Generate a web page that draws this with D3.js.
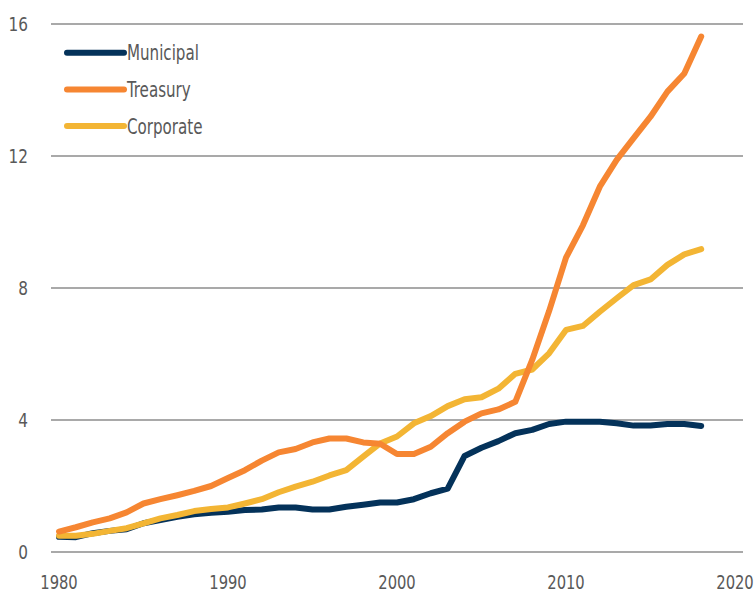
<!DOCTYPE html>
<html>
<head>
<meta charset="utf-8">
<script src="https://cdn.jsdelivr.net/npm/d3@7"></script>
<style>
  body { margin: 0; background: #fff; }
  svg text { font-family: "DejaVu Sans Condensed", "DejaVu Sans", sans-serif; font-stretch: condensed; fill: #595959; }
</style>
</head>
<body>
<div id="chart"></div>
<script>
// data
const years = d3.range(1980, 2019);
const municipal = [0.46, 0.45, 0.57, 0.64, 0.69, 0.87, 0.97, 1.07, 1.14, 1.19,
                   1.22, 1.27, 1.29, 1.35, 1.35, 1.29, 1.29, 1.37, 1.43, 1.5,
                   1.5, 1.6, 1.78, 1.92, 2.91, 3.16, 3.36, 3.6, 3.7, 3.88,
                   3.95, 3.95, 3.95, 3.9, 3.83, 3.83, 3.88, 3.88, 3.82];
const treasury = [0.62, 0.75, 0.9, 1.02, 1.2, 1.47, 1.6, 1.72, 1.85, 2.0,
                  2.24, 2.48, 2.77, 3.02, 3.12, 3.32, 3.44, 3.44, 3.32, 3.28,
                  2.97, 2.97, 3.19, 3.6, 3.95, 4.2, 4.32, 4.55, 5.82, 7.3,
                  8.92, 9.9, 11.07, 11.88, 12.54, 13.19, 13.95, 14.5, 15.62];
const corporate = [0.49, 0.49, 0.55, 0.64, 0.72, 0.87, 1.02, 1.12, 1.24, 1.3,
                   1.35, 1.47, 1.6, 1.81, 1.98, 2.13, 2.32, 2.48, 2.89, 3.29,
                   3.5, 3.9, 4.12, 4.42, 4.63, 4.69, 4.95, 5.4, 5.53, 6.02,
                   6.73, 6.85, 7.28, 7.69, 8.09, 8.26, 8.7, 9.02, 9.18];
const seriesNames = ["Municipal", "Treasury", "Corporate"];
const seriesColors = ["#04325a", "#f68632", "#f3b534"];
const yTicks = [0, 4, 8, 12, 16];
const xTicks = [1980, 1990, 2000, 2010, 2020];

const width = 754, height = 592;

const svg = d3.select('#chart')
              .append('svg')
              .attr("width", width)
              .attr("height", height);

const x = d3.scaleLinear()
  .domain([1980, 2020])
  .range([59, 735]);

const y = d3.scaleLinear()
  .domain([0, 16])
  .range([552, 24]);

// horizontal grid lines
svg.append("g")
  .selectAll("line")
  .data(yTicks)
  .join("line")
    .attr("x1", 51)
    .attr("x2", 743)
    .attr("y1", d => y(d))
    .attr("y2", d => y(d))
    .attr("stroke", "#8c8c8c")
    .attr("stroke-width", 1.6);

// y axis labels
svg.append("g")
  .style("font-size", "20px")
  .selectAll("text")
  .data(yTicks)
  .join("text")
    .attr("transform", d => `translate(28, ${y(d)}) scale(0.85, 1)`)
    .attr("dy", "0.36em")
    .attr("text-anchor", "end")
    .text(d => d);

// x axis labels
svg.append("g")
  .style("font-size", "20px")
  .selectAll("text")
  .data(xTicks)
  .join("text")
    .attr("transform", d => `translate(${x(d)}, 589) scale(0.82, 1)`)
    .attr("text-anchor", "middle")
    .text(d => d);

const series = [municipal, treasury, corporate];

const line = d3.line()
  .x((d, i) => x(years[i]))
  .y(d => y(d));

svg.append("g")
  .selectAll("path")
  .data([0, 2, 1])
  .join("path")
    .attr("d", k => line(series[k]))
    .attr("fill", "none")
    .attr("stroke", k => seriesColors[k])
    .attr("stroke-width", 6)
    .attr("stroke-linejoin", "round")
    .attr("stroke-linecap", "round");

// legend
const legend = svg.append("g")
  .selectAll("g")
  .data(seriesNames)
  .join("g")
    .attr("transform", (d, i) => `translate(67, ${52.7 + i * 36.7})`);

legend.append("line")
  .attr("x1", 0)
  .attr("x2", 57)
  .attr("stroke", (d, i) => seriesColors[i])
  .attr("stroke-width", 6)
  .attr("stroke-linecap", "round");

legend.append("text")
  .attr("transform", "translate(60, 0) scale(0.8, 1)")
  .attr("dy", "0.36em")
  .style("font-size", "21px")
  .text(d => d);
</script>
</body>
</html>
